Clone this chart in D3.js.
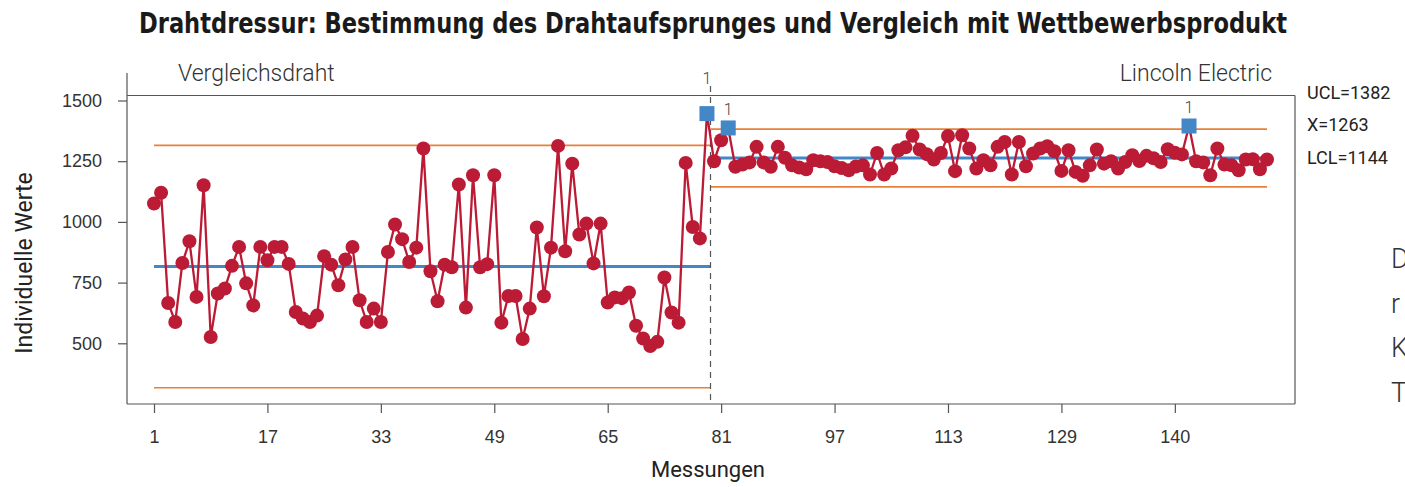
<!DOCTYPE html>
<html>
<head>
<meta charset="utf-8">
<script src="https://cdn.jsdelivr.net/npm/d3@7"></script>
<style>
  body { margin: 0; background: #fff; }
  svg { display: block; font-family: Roboto, "Liberation Sans", sans-serif; }
</style>
</head>
<body>
<div id="chart"></div>
<script>
// Einzelwerte, Stufe 1 (Vergleichsdraht) und Stufe 2 (Lincoln Electric)
const stage1Values = [
  1076, 1120, 666, 588, 831, 920, 691, 1151, 526, 705,
  726, 819, 897, 747, 656, 897, 842, 897, 897, 827,
  629, 602, 588, 614, 859, 824, 739, 845, 897, 677,
  588, 643, 588, 876, 989, 929, 835, 894, 1302, 797,
  673, 824, 813, 1154, 647, 1192, 813, 826, 1192, 585,
  695, 695, 518, 643, 977, 694, 894, 1313, 879, 1240,
  948, 993, 829, 993, 668, 689, 686, 709, 572, 520,
  489, 506, 771, 627, 585, 1243, 979, 932, 1446
];
const stage2Values = [
  1250, 1336, 1387, 1227, 1236, 1245, 1309, 1245, 1227, 1309,
  1264, 1233, 1224, 1217, 1254, 1250, 1247, 1229, 1222, 1213,
  1228, 1233, 1195, 1284, 1195, 1220, 1295, 1307, 1355, 1298,
  1279, 1257, 1284, 1354, 1209, 1357, 1302, 1220, 1254, 1233,
  1309, 1329, 1195, 1329, 1229, 1282, 1302, 1312, 1291, 1210,
  1295, 1206, 1190, 1233, 1298, 1240, 1250, 1220, 1247, 1275,
  1251, 1272, 1262, 1247, 1299, 1285, 1278, 1395, 1250, 1245,
  1192, 1302, 1236, 1233, 1213, 1257, 1258, 1217, 1257
];

const stageNames = ["Vergleichsdraht", "Lincoln Electric"];
const stageStart = [1, 79.5];
const stageEnd = [79.5, 158];
const stageMean = [816, 1263];
const stageUCL = [1315, 1382];
const stageLCL = [317, 1144];

// Punkte, die Test 1 nicht bestehen
const test1Failures = [79, 82, 147];

const xTickValues = [1, 17, 33, 49, 65, 81, 97, 113, 129, 145];
const xTickLabels = ["1", "17", "33", "49", "65", "81", "97", "113", "129", "140"];
const yTickValues = [500, 750, 1000, 1250, 1500];

const width = 1405;
const height = 487;
const plot = { left: 127, right: 1295, top: 95.5, bottom: 404, axisTop: 73 };

const svg = d3
  .select("#chart")
  .append("svg")
  .attr("width", width)
  .attr("height", height);

const values = stage1Values
  .concat(stage2Values)
  .map((v, i) => ({ index: i + 1, value: v }));

const x = d3.scaleLinear().domain([1, 158]).range([154, 1267]);
const y = d3.scaleLinear().domain([250, 1500]).range([plot.bottom, 100.5]);

// title
svg
  .append("text")
  .attr("x", 713)
  .attr("y", 33)
  .attr("text-anchor", "middle")
  .attr("textLength", 1148)
  .attr("lengthAdjust", "spacingAndGlyphs")
  .style("font-family", '"Liberation Sans Narrow", "DejaVu Sans Condensed", sans-serif')
  .style("font-weight", "bold")
  .style("font-size", "28px")
  .style("fill", "#1a1a1a")
  .text("Drahtdressur: Bestimmung des Drahtaufsprunges und Vergleich mit Wettbewerbsprodukt");

// frame
const frame = svg.append("g").attr("stroke", "#555").attr("stroke-width", 1.2);
frame.append("line")
  .attr("x1", plot.left).attr("x2", plot.right)
  .attr("y1", plot.top).attr("y2", plot.top);
frame.append("line")
  .attr("x1", plot.right).attr("x2", plot.right)
  .attr("y1", plot.top).attr("y2", plot.bottom);
frame.append("line")
  .attr("x1", plot.left).attr("x2", plot.right)
  .attr("y1", plot.bottom).attr("y2", plot.bottom);
frame.append("line")
  .attr("x1", plot.left).attr("x2", plot.left)
  .attr("y1", plot.axisTop).attr("y2", plot.bottom);

// axes
const yAxis = svg
  .append("g")
  .attr("transform", `translate(${plot.left},0)`)
  .call(
    d3.axisLeft(y)
      .tickValues(yTickValues)
      .tickFormat(d3.format("d"))
      .tickSize(9)
      .tickPadding(16)
  );

const xAxis = svg
  .append("g")
  .attr("transform", `translate(0,${plot.bottom})`)
  .call(
    d3.axisBottom(x)
      .tickValues(xTickValues)
      .tickFormat((d, i) => xTickLabels[i])
      .tickSize(9)
      .tickPadding(17)
  );

[xAxis, yAxis].forEach((g) => {
  g.select(".domain").remove();
  g.selectAll(".tick line").attr("stroke", "#555").attr("stroke-width", 1.2);
  g.selectAll(".tick text")
    .style("font-size", "18px")
    .style("font-weight", 300)
    .style("fill", "#333");
});

// axis titles
svg
  .append("text")
  .attr("x", 708)
  .attr("y", 477)
  .attr("text-anchor", "middle")
  .style("font-size", "22px")
  .style("fill", "#222")
  .text("Messungen");

svg
  .append("text")
  .attr("transform", "translate(32,263) rotate(-90)")
  .attr("text-anchor", "middle")
  .style("font-size", "23px")
  .style("fill", "#222")
  .text("Individuelle Werte");

// stage labels
svg
  .append("text")
  .attr("x", 178)
  .attr("y", 80.5)
  .style("font-size", "23px")
  .style("font-weight", 300)
  .style("fill", "#333")
  .text(stageNames[0]);

svg
  .append("text")
  .attr("x", 1272)
  .attr("y", 80.5)
  .attr("text-anchor", "end")
  .style("font-size", "23px")
  .style("font-weight", 300)
  .style("fill", "#333")
  .text(stageNames[1]);

// control limits and centre lines
stageNames.forEach((name, s) => {
  [stageUCL[s], stageLCL[s]].forEach((v) => {
    svg.append("line")
      .attr("x1", x(stageStart[s])).attr("x2", x(stageEnd[s]))
      .attr("y1", y(v)).attr("y2", y(v))
      .attr("stroke", "#e8803a")
      .attr("stroke-width", 1.7);
  });
  svg.append("line")
    .attr("x1", x(stageStart[s])).attr("x2", x(stageEnd[s]))
    .attr("y1", y(stageMean[s])).attr("y2", y(stageMean[s]))
    .attr("stroke", "#4287c7")
    .attr("stroke-width", 3);
});

// stage divider
svg
  .append("line")
  .attr("x1", x(stageEnd[0])).attr("x2", x(stageEnd[0]))
  .attr("y1", 86).attr("y2", plot.bottom)
  .attr("stroke", "#555")
  .attr("stroke-width", 1.2)
  .attr("stroke-dasharray", "6,5");

// data line
const line = d3.line().x((d) => x(d.index)).y((d) => y(d.value));

svg
  .append("path")
  .datum(values)
  .attr("d", line)
  .attr("fill", "none")
  .attr("stroke", "#bb1b35")
  .attr("stroke-width", 2.3);

svg
  .selectAll(".point")
  .data(values.filter((d) => !test1Failures.includes(d.index)))
  .enter()
  .append("circle")
  .attr("class", "point")
  .attr("cx", (d) => x(d.index))
  .attr("cy", (d) => y(d.value))
  .attr("r", 7)
  .attr("fill", "#bb1b35");

const failed = values.filter((d) => test1Failures.includes(d.index));
const sq = 15;

svg
  .selectAll(".failed")
  .data(failed)
  .enter()
  .append("rect")
  .attr("class", "failed")
  .attr("x", (d) => x(d.index) - sq / 2)
  .attr("y", (d) => y(d.value) - sq / 2)
  .attr("width", sq)
  .attr("height", sq)
  .attr("fill", "#4487c7");

svg
  .selectAll(".failed-label")
  .data(failed)
  .enter()
  .append("text")
  .attr("class", "failed-label")
  .attr("x", (d) => x(d.index))
  .attr("y", (d) => {
    let by = y(d.value) - 13;
    if (by - 12 < plot.top) by = plot.top - 12;
    return by;
  })
  .attr("text-anchor", "middle")
  .style("font-size", "16px")
  .style("font-weight", 300)
  .style("fill", "#444")
  .text("1");

// limit labels for the last stage
const limitLabels = [
  `UCL=${stageUCL[1]}`,
  `X=${stageMean[1]}`,
  `LCL=${stageLCL[1]}`,
];
svg
  .selectAll(".limit-label")
  .data(limitLabels)
  .enter()
  .append("text")
  .attr("class", "limit-label")
  .attr("x", 1307)
  .attr("y", (d, i) => 98.5 + i * 32.5)
  .style("font-size", "18px")
  .style("fill", "#222")
  .text((d) => d);

// cut-off side text at the right edge
const sideLetters = ["D", "r", "K", "T"];
svg
  .selectAll(".side")
  .data(sideLetters)
  .enter()
  .append("text")
  .attr("class", "side")
  .attr("x", 1391)
  .attr("y", (d, i) => 268 + i * 44.5)
  .style("font-size", "27px")
  .style("font-weight", 300)
  .style("fill", "#333")
  .text((d) => d);
</script>
</body>
</html>
